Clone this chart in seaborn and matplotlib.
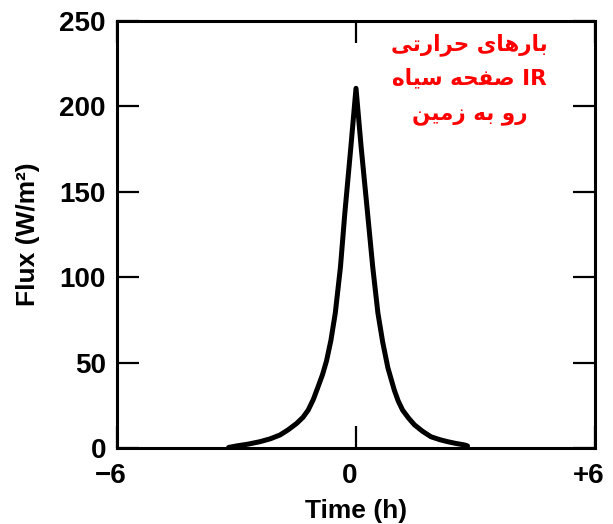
import numpy as np
import pandas as pd
import matplotlib
matplotlib.use("Agg")
import matplotlib.pyplot as plt
import matplotlib.transforms as mtransforms
import seaborn as sns

# ---------------- data ----------------
time_h = [-3.2, -3.0, -2.7, -2.41, -2.15, -1.91, -1.7, -1.49, -1.33, -1.2, -1.07, -0.95,
          -0.84, -0.74, -0.63, -0.52, -0.39, -0.28, -0.13, 0.0, 0.13, 0.29, 0.42, 0.55,
          0.67, 0.80, 0.96, 1.06, 1.17, 1.32, 1.47, 1.67, 1.88, 2.1, 2.3, 2.5, 2.72, 2.8]
flux = [0.3, 1.2, 2.3, 3.7, 5.4, 7.6, 10.7, 14.4, 18, 22.2, 28.5, 36,
        43, 51, 63, 79, 106, 137.6, 176, 210.6, 176, 137.6, 106, 79,
        62, 47, 34, 27.5, 22.2, 17.5, 13.5, 9.8, 6.6, 4.9, 3.7, 2.7, 1.8, 1.2]
x_ticks = [-6, 0, 6]
x_tick_labels = ["\u22126", "0", "+6"]
y_ticks = [0, 50, 100, 150, 200, 250]
x_label = "Time (h)"
y_label = "Flux (W/m\u00b2)"
note_lines = ["بارهای حرارتی", "IR صفحه سیاه", "رو به زمین"]

# ------------- minimal Arabic-script shaping (presentation forms) -------------
FORMS = {
    'ا': (0xFE8D, 0xFE8E, None, None),
    'ب': (0xFE8F, 0xFE90, 0xFE91, 0xFE92),
    'ت': (0xFE95, 0xFE96, 0xFE97, 0xFE98),
    'ح': (0xFEA1, 0xFEA2, 0xFEA3, 0xFEA4),
    'ر': (0xFEAD, 0xFEAE, None, None),
    'ز': (0xFEAF, 0xFEB0, None, None),
    'س': (0xFEB1, 0xFEB2, 0xFEB3, 0xFEB4),
    'ص': (0xFEB9, 0xFEBA, 0xFEBB, 0xFEBC),
    'ف': (0xFED1, 0xFED2, 0xFED3, 0xFED4),
    'م': (0xFEE1, 0xFEE2, 0xFEE3, 0xFEE4),
    'ن': (0xFEE5, 0xFEE6, 0xFEE7, 0xFEE8),
    'ه': (0xFEE9, 0xFEEA, 0xFEEB, 0xFEEC),
    'و': (0xFEED, 0xFEEE, None, None),
    'ی': (0xFBFC, 0xFBFD, 0xFBFE, 0xFBFF),
}


def shape_word(word):
    if not any(c in FORMS for c in word):
        return word
    out = []
    n = len(word)
    for i, c in enumerate(word):
        f = FORMS[c]
        prev_joins = i > 0 and FORMS[word[i - 1]][2] is not None
        can_join_next = f[2] is not None and i < n - 1
        if prev_joins and can_join_next:
            cp = f[3]
        elif prev_joins:
            cp = f[1]
        elif can_join_next:
            cp = f[2]
        else:
            cp = f[0]
        out.append(chr(cp))
    return "".join(reversed(out))


def visual(line):
    words = line.split(" ")
    return " ".join(shape_word(w) for w in reversed(words))


# ---------------- plot ----------------
sns.set_style("ticks")
plt.rcParams['font.family'] = ['Liberation Sans', 'DejaVu Sans']
plt.rcParams['font.weight'] = 'bold'
plt.rcParams['text.color'] = 'black'
plt.rcParams['axes.labelcolor'] = 'black'

df = pd.DataFrame({"time": time_h, "flux": flux})

fig = plt.figure(figsize=(6.13, 5.24), dpi=100)
ax = fig.add_axes([117 / 613, 76 / 524, 478 / 613, 427 / 524])

sns.lineplot(data=df, x="time", y="flux", ax=ax, color="black", linewidth=3.6,
             estimator=None, sort=False)

ax.set_xlim(-6, 6)
ax.set_ylim(0, 250)
ax.set_xticks(x_ticks)
ax.set_xticklabels(x_tick_labels)
ax.set_yticks(y_ticks)

for s in ax.spines.values():
    s.set_visible(True)
    s.set_linewidth(2.2)
    s.set_color("black")

ax.tick_params(axis="both", which="major", direction="in", length=16, width=1.6,
               top=True, right=True, labelsize=20, colors="black")
ax.tick_params(axis="y", pad=8)
ax.tick_params(axis="x", pad=11)
for lab in ax.get_xticklabels() + ax.get_yticklabels():
    lab.set_fontweight("bold")

shift = mtransforms.ScaledTranslation(-6 / 100, 0, fig.dpi_scale_trans)
for lab in ax.get_xticklabels():
    lab.set_transform(lab.get_transform() + shift)

ax.set_xlabel(x_label, fontsize=19, fontweight="bold", labelpad=7, color="black")
ax.set_ylabel(y_label, fontsize=19, fontweight="bold", labelpad=14, color="black")

ys = [0.944, 0.866, 0.778]
for line, yy in zip(note_lines, ys):
    ax.text(0.738, yy, visual(line), transform=ax.transAxes, ha="center", va="center",
            color="#ff0000", fontsize=15.5, fontweight="bold",
            family=['DejaVu Sans'])

fig.savefig("out.png", dpi=100)
